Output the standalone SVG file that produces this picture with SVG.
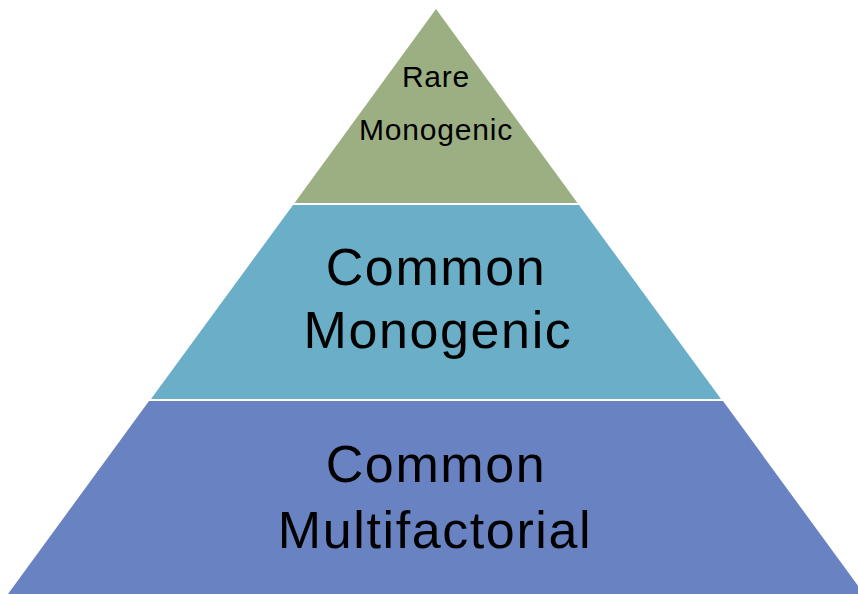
<svg xmlns="http://www.w3.org/2000/svg" width="858" height="594" viewBox="0 0 858 594">
  <style>
    .lbl { font-family: "Liberation Sans", Arial, sans-serif; fill: #000000; text-anchor: middle; }
    .small { font-size: 30px; letter-spacing: 0.8px; }
    .big { font-size: 52px; letter-spacing: 1.6px; }
  </style>
  <rect x="0" y="0" width="858" height="594" fill="#ffffff"/>
  <g id="tier-top">
    <polygon points="436,9 577.5,203 294.5,203" fill="#9BAF83"/>
    <text class="lbl small" x="436" y="87">Rare</text>
    <text class="lbl small" x="436" y="140">Monogenic</text>
  </g>
  <g id="tier-middle">
    <polygon points="293,205 579,205 721,399 151,399" fill="#6AAFC7"/>
    <text class="lbl big" x="436" y="285">Common</text>
    <text class="lbl big" x="438" y="348">Monogenic</text>
  </g>
  <g id="tier-bottom">
    <polygon points="149,401 723,401 864,594 8,594" fill="#6882C2"/>
    <text class="lbl big" x="436" y="482">Common</text>
    <text class="lbl big" x="435" y="548">Multifactorial</text>
  </g>
  <g id="connectors"/>
</svg>
